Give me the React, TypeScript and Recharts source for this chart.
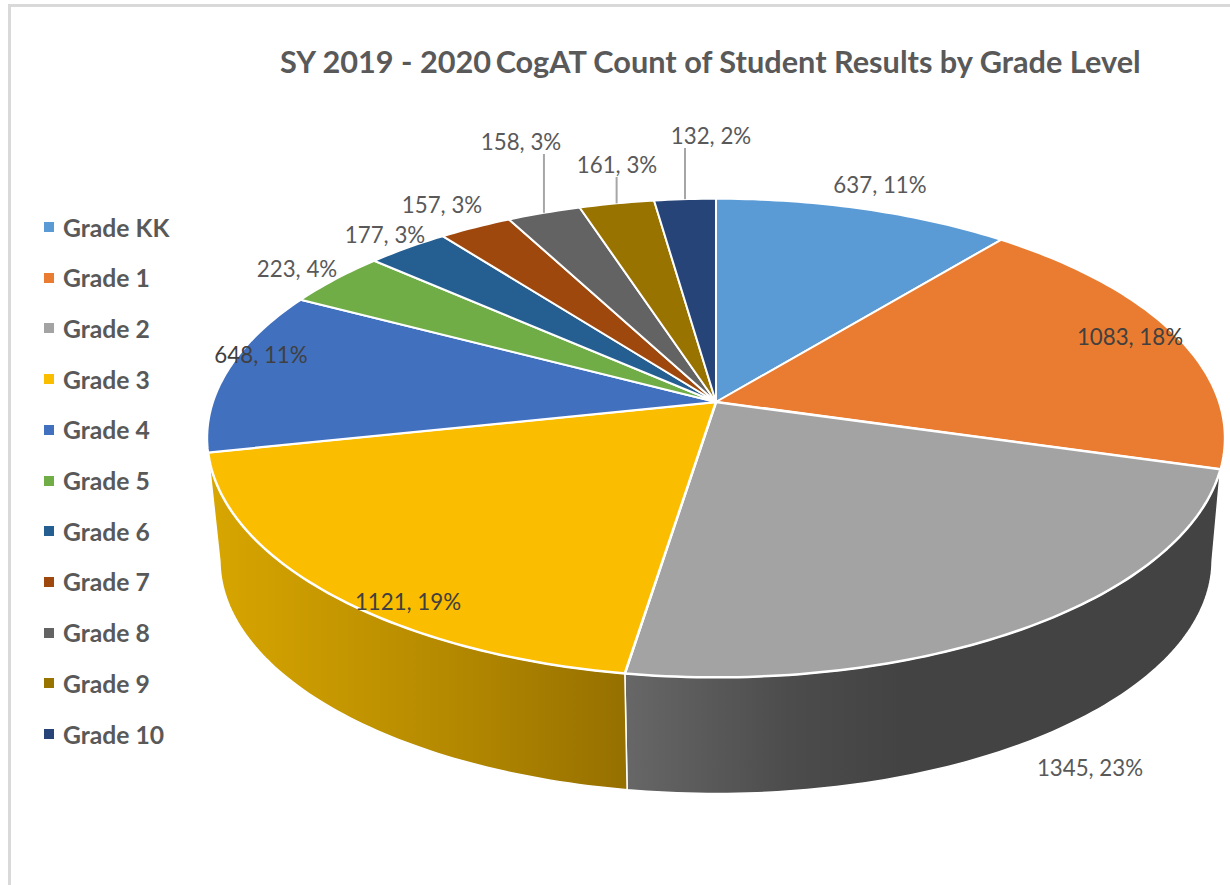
import { Legend, Pie, PieChart } from 'recharts';

const grades = ['Grade KK', 'Grade 1', 'Grade 2', 'Grade 3', 'Grade 4', 'Grade 5', 'Grade 6', 'Grade 7', 'Grade 8', 'Grade 9', 'Grade 10'];
const counts = [637, 1083, 1345, 1121, 648, 223, 177, 157, 158, 161, 132];
const percents = [11, 18, 23, 19, 11, 4, 3, 3, 3, 3, 2];
const colors = ['#5b9bd5', '#ea7c31', '#a3a3a3', '#fbbd00', '#4170bf', '#70ad47', '#255e91', '#9e480e', '#636363', '#997300', '#264478'];

// label centres
const labelX = [880, 1130, 1090, 408, 261, 297, 385, 442, 521, 617, 711];
const labelY = [184, 336, 767, 601, 354, 268, 234, 204, 141, 164, 135];
const leaders = [8, 9, 10];
const insideLabels = [1, 3, 4];

const CX = 716;
const CY = 402;
const RADIUS = 503;
const SQUASH = 0.465;
const PERSPECTIVE = 0.1506;
// the underside of the disc is further from the camera
const BOTTOM_SCALE = 0.975;
const BOTTOM_DROP = 123;
const SILHOUETTE = 99;

const chartData = grades.map((grade, i) => ({ name: grade, value: counts[i], fill: colors[i], percent: percents[i] }));

// clockwise from 12 o'clock in degrees -> page position on the tilted disc
function project(theta: number, cx: number, cy: number, r: number) {
  const rad = (theta * Math.PI) / 180;
  const u = Math.sin(rad);
  const v = Math.cos(rad);
  const d = 1 + PERSPECTIVE * v;
  return { x: cx + (r * u) / d, y: cy - (r * SQUASH * v) / d };
}

function rim(from: number, to: number, cx: number, cy: number, r: number) {
  const steps = Math.max(2, Math.ceil(Math.abs(to - from)));
  const pts: string[] = [];
  for (let i = 0; i <= steps; i++) {
    const p = project(from + ((to - from) * i) / steps, cx, cy, r);
    pts.push(`${p.x.toFixed(2)} ${p.y.toFixed(2)}`);
  }
  return pts.join(' L ');
}

const wallStops: Record<string, [number, number, string, string, string]> = {
  'Grade 2': [625, 900, '#676767', '#4c4c4c', '#434343'],
  'Grade 3': [210, 625, '#d8a600', '#b38800', '#967000'],
};

function Slice(props: any) {
  const { cx, cy, outerRadius, startAngle, endAngle, fill, name } = props;
  const t0 = 90 - startAngle;
  const t1 = 90 - endAngle;
  const stops = wallStops[name];
  const top = `M ${cx} ${cy} L ${rim(t0, t1, cx, cy, outerRadius)} Z`;
  if (!stops) return <path d={top} fill={fill} stroke="#ffffff" strokeWidth={2} strokeLinejoin="round" />;

  const by = cy + BOTTOM_DROP;
  const br = outerRadius * BOTTOM_SCALE;
  const b0 = t0 < 135 ? SILHOUETTE : t0;
  const b1 = t1 > 225 ? 360 - SILHOUETTE : t1;
  const wall = `M ${rim(t0, t1, cx, cy, outerRadius)} L ${rim(b1, b0, cx, by, br)} Z`;
  const id = `wall-${name.replace(' ', '')}`;
  return (
    <g>
      <defs>
        <linearGradient id={id} gradientUnits="userSpaceOnUse" x1={stops[0]} x2={stops[1]} y1={0} y2={0}>
          <stop offset="0%" stopColor={stops[2]} />
          <stop offset="60%" stopColor={stops[3]} />
          <stop offset="100%" stopColor={stops[4]} />
        </linearGradient>
      </defs>
      <path d={wall} fill={`url(#${id})`} stroke="#ffffff" strokeWidth={1.5} strokeLinejoin="round" />
      <path d={top} fill={fill} stroke="#ffffff" strokeWidth={2.5} strokeLinejoin="round" />
    </g>
  );
}

function SliceLabel(props: any) {
  const { index, value, midAngle, cx, cy, outerRadius } = props;
  const text = `${value}, ${percents[index]}%`;
  const x = labelX[index];
  const y = labelY[index];
  const color = insideLabels.includes(index) ? '#404040' : '#595959';
  const anchor = project(90 - midAngle, cx, cy, outerRadius);
  return (
    <g>
      {leaders.includes(index) && (
        <line x1={anchor.x} x2={anchor.x} y1={anchor.y} y2={y + 13} stroke="#a6a6a6" strokeWidth={2} />
      )}
      <text x={x} y={y} textAnchor="middle" dominantBaseline="central" fontFamily="Lato" fontSize={22.3} fill={color}>
        {text}
      </text>
    </g>
  );
}

function GradeLegend({ payload }: any) {
  return (
    <div style={{ position: 'relative', width: 180, height: 540 }}>
      {(payload ?? []).map((item: any, i: number) => (
        <div key={item.value} style={{ position: 'absolute', left: 0, top: i * 50.7, height: 24, display: 'flex', alignItems: 'center' }}>
          <span style={{ width: 10, height: 10, background: item.color, marginRight: 9 }} />
          <span style={{ fontFamily: 'Lato', fontWeight: 700, fontSize: 24.7, color: '#595959', whiteSpace: 'nowrap' }}>{item.value}</span>
        </div>
      ))}
    </div>
  );
}

export default function App() {
  return (
    <div style={{ position: 'absolute', left: 0, top: 0, width: 1230, height: 885, background: '#ffffff', overflow: 'hidden' }}>
      <PieChart width={1230} height={885} margin={{ top: 0, right: 0, bottom: 0, left: 0 }}>
        <rect x={9.5} y={5.5} width={1300} height={1000} fill="none" stroke="#d9d9d9" strokeWidth={3} />
        <text x={280} y={61} dominantBaseline="central" fontFamily="Lato" fontWeight={700} fontSize={30.7} fill="#595959">
          <tspan>SY 2019 - 2020</tspan>
          <tspan dx={-3}> CogAT Count of Student Results by Grade Level</tspan>
        </text>
        <Pie
          data={chartData}
          dataKey="value"
          nameKey="name"
          cx={CX}
          cy={CY}
          outerRadius={RADIUS}
          startAngle={90}
          endAngle={-270}
          shape={Slice}
          label={SliceLabel}
          labelLine={false}
          isAnimationActive={false}
        />
        <Legend
          content={GradeLegend}
          itemSorter={null}
          layout="vertical"
          align="right"
          verticalAlign="top"
          wrapperStyle={{ left: 44, right: 'auto', top: 215, width: 180 }}
        />
      </PieChart>
    </div>
  );
}
